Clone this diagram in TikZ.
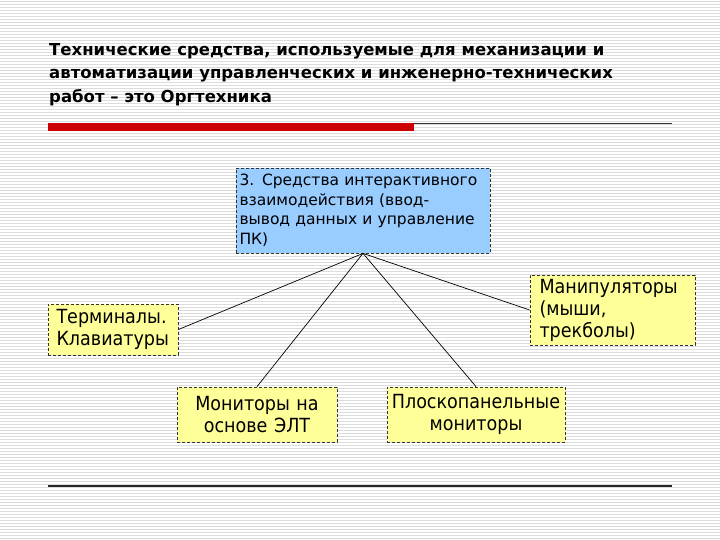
\documentclass[tikz,border=0pt]{standalone}
\usepackage{fontspec}
\setmainfont{DejaVu Sans}
\newfontfamily\tahomalike{DejaVu Sans Condensed}
\definecolor{boxyellow}{HTML}{FFFF99}
\definecolor{boxblue}{HTML}{99CCFF}
\definecolor{barred}{HTML}{CC0000}
\definecolor{stripe}{HTML}{DCDCDC}
\begin{document}
\begin{tikzpicture}[x=1pt,y=-1pt,
  box/.style={draw=black!80, line width=0.8pt, dash pattern=on 3pt off 2pt, fill=boxyellow,
    inner xsep=0pt, inner ysep=0pt, font=\tahomalike\fontsize{19.5}{22}\selectfont},
  conn/.style={draw=black, line width=0.7pt}]
\useasboundingbox (0,0) rectangle (720,540);
\fill[white] (0,0) rectangle (720,540);
\foreach \yy in {1,4,...,539} {\draw[stripe, line width=0.9pt] (0,\yy) -- (720,\yy);}
% title
\node[anchor=north west, align=left, inner sep=0pt, font=\bfseries\fontsize{16.5}{23.5}\selectfont] (title) at (49,43)
  {Технические средства, используемые для механизации и\\
   автоматизации управленческих и инженерно-технических\\
   работ – это Оргтехника};
% rules
\fill[barred] (48,123) rectangle (414,131);
\draw[black!80, line width=1pt] (414,124) -- (672,124);
\draw[black!85, line width=1.6pt] (48,486) -- (672,486);
% boxes
\node[box, fill=boxblue, minimum width=254pt, minimum height=85pt, text width=247pt, align=left,
  font=\fontsize{15.5}{19.5}\selectfont] (c) at (363,210.5)
  {3. Средства интерактивного\\взаимодействия (ввод-\\вывод данных и управление\\ПК)};
\node[box, minimum width=130pt, minimum height=51pt, text width=113pt, align=left] (t) at (113,329.5)
  {Терминалы.\\Клавиатуры};
\node[box, minimum width=165pt, minimum height=70pt, text width=146pt, align=left] (m) at (612.5,310)
  {Манипуляторы\\(мыши,\\трекболы)};
\node[box, minimum width=160pt, minimum height=55pt, text width=150pt, align=center] (e) at (257,414.5)
  {Мониторы на\\основе ЭЛТ};
\node[box, minimum width=178pt, minimum height=55pt, text width=176pt, align=center] (f) at (476,414.5)
  {Плоскопанельные\\мониторы};
% connectors
\draw[conn] (c.south) -- (t.east);
\draw[conn] (c.south) -- (e.north);
\draw[conn] (c.south) -- (f.north);
\draw[conn] (c.south) -- (m.west);
\end{tikzpicture}
\end{document}
